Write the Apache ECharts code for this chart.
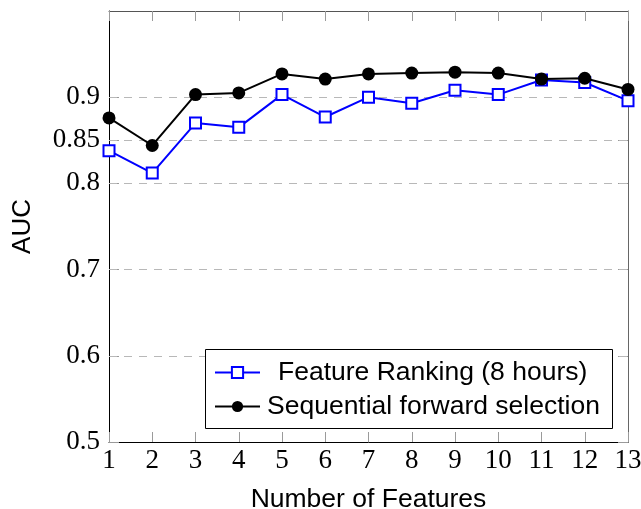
<!DOCTYPE html>
<html>
<head>
<meta charset="utf-8">
<script src="https://cdn.jsdelivr.net/npm/echarts@6/dist/echarts.min.js"></script>
<style>
  html, body { margin: 0; padding: 0; background: #fff; }
  #chart { width: 641px; height: 509px; }
</style>
</head>
<body>
<div id="chart"></div>
<script>
// Number of features used in each model
const featureCounts = [1, 2, 3, 4, 5, 6, 7, 8, 9, 10, 11, 12, 13];
// AUC for each feature count
const rankingAUC = [0.838, 0.812, 0.870, 0.865, 0.903, 0.877, 0.900, 0.893, 0.908, 0.903, 0.920, 0.917, 0.896];
const forwardAUC = [0.876, 0.844, 0.903, 0.905, 0.927, 0.921, 0.927, 0.928, 0.929, 0.928, 0.921, 0.922, 0.909];
// Axis ticks
const xTicks = [1, 2, 3, 4, 5, 6, 7, 8, 9, 10, 11, 12, 13];
const yTicks = [0.5, 0.6, 0.7, 0.8, 0.85, 0.9];
const gridLines = [0.6, 0.7, 0.8, 0.85, 0.9];

const rankingName = 'Feature Ranking (8 hours)';
const forwardName = 'Sequential forward selection';

const serif = '"Liberation Serif", "DejaVu Serif", serif';
const sans = '"Liberation Sans", Arial, sans-serif';

const chart = echarts.init(document.getElementById('chart'), null, { renderer: 'canvas' });

const tickStyle = { show: true, inside: true, length: 10, lineStyle: { color: '#9a9a9a', width: 1 } };

chart.setOption({
  animation: false,
  backgroundColor: '#fff',
  grid: { left: 109, right: 13, top: 11, bottom: 67, containLabel: false, outerBoundsMode: 'none' },
  xAxis: [
    {
      type: 'value', min: 1, max: 13, interval: 1, position: 'bottom',
      name: 'Number of Features', nameLocation: 'middle', nameGap: 44,
      nameTextStyle: { fontFamily: sans, fontSize: 26.5, color: '#000' },
      axisLine: { show: true, lineStyle: { color: '#000', width: 1 } },
      axisTick: Object.assign({ customValues: xTicks }, tickStyle),
      axisLabel: { customValues: xTicks, fontFamily: serif, fontSize: 27, color: '#000', margin: 5 },
      splitLine: { show: false }
    },
    {
      type: 'value', min: 1, max: 13, interval: 1, position: 'top',
      axisLine: { show: true, lineStyle: { color: '#555', width: 1 } },
      axisTick: Object.assign({ customValues: xTicks }, tickStyle),
      axisLabel: { show: false },
      splitLine: { show: false }
    }
  ],
  yAxis: [
    {
      type: 'value', min: 0.5, max: 1.0, position: 'left',
      name: 'AUC', nameLocation: 'middle', nameGap: 73,
      nameTextStyle: { fontFamily: sans, fontSize: 26, color: '#000' },
      axisLine: { show: true, lineStyle: { color: '#000', width: 1 } },
      axisTick: Object.assign({ customValues: yTicks }, tickStyle),
      axisLabel: { customValues: yTicks, fontFamily: serif, fontSize: 27, color: '#000', margin: 9 },
      splitLine: { show: false }
    },
    {
      type: 'value', min: 0.5, max: 1.0, position: 'right',
      axisLine: { show: true, lineStyle: { color: '#666', width: 1 } },
      axisTick: Object.assign({ customValues: yTicks }, tickStyle),
      axisLabel: { show: false },
      splitLine: { show: false }
    }
  ],
  legend: [
    {
      data: [rankingName], orient: 'vertical', left: 214, top: 359,
      padding: 0, itemWidth: 45, itemHeight: 14, z: 20,
      textStyle: { fontFamily: sans, fontSize: 26.5, color: '#000', padding: [0, 0, 0, 13] }
    },
    {
      data: [forwardName], orient: 'vertical', left: 214, top: 393,
      padding: 0, itemWidth: 45, itemHeight: 14, z: 20,
      textStyle: { fontFamily: sans, fontSize: 26.5, color: '#000', padding: [0, 0, 0, 2] }
    }
  ],
  graphic: [
    {
      type: 'rect', z: 15, silent: true,
      shape: { x: 205.5, y: 349.5, width: 407, height: 79 },
      style: { fill: '#fff', stroke: '#000', lineWidth: 1 }
    }
  ],
  series: [
    {
      name: rankingName, type: 'line', z: 3,
      data: featureCounts.map((x, i) => [x, rankingAUC[i]]),
      symbol: 'rect', symbolSize: 11,
      lineStyle: { color: '#0000ff', width: 2 },
      itemStyle: { color: '#ffffff', borderColor: '#0000ff', borderWidth: 2 },
      markLine: {
        silent: true, symbol: 'none', z: 1,
        label: { show: false },
        lineStyle: { color: '#b8b8b8', type: [8, 7], width: 1 },
        data: gridLines.map(v => ({ yAxis: v }))
      }
    },
    {
      name: forwardName, type: 'line', z: 4,
      data: featureCounts.map((x, i) => [x, forwardAUC[i]]),
      symbol: 'circle', symbolSize: 13,
      lineStyle: { color: '#000', width: 2 },
      itemStyle: { color: '#000', borderColor: '#000', borderWidth: 0 }
    }
  ]
});
</script>
</body>
</html>
